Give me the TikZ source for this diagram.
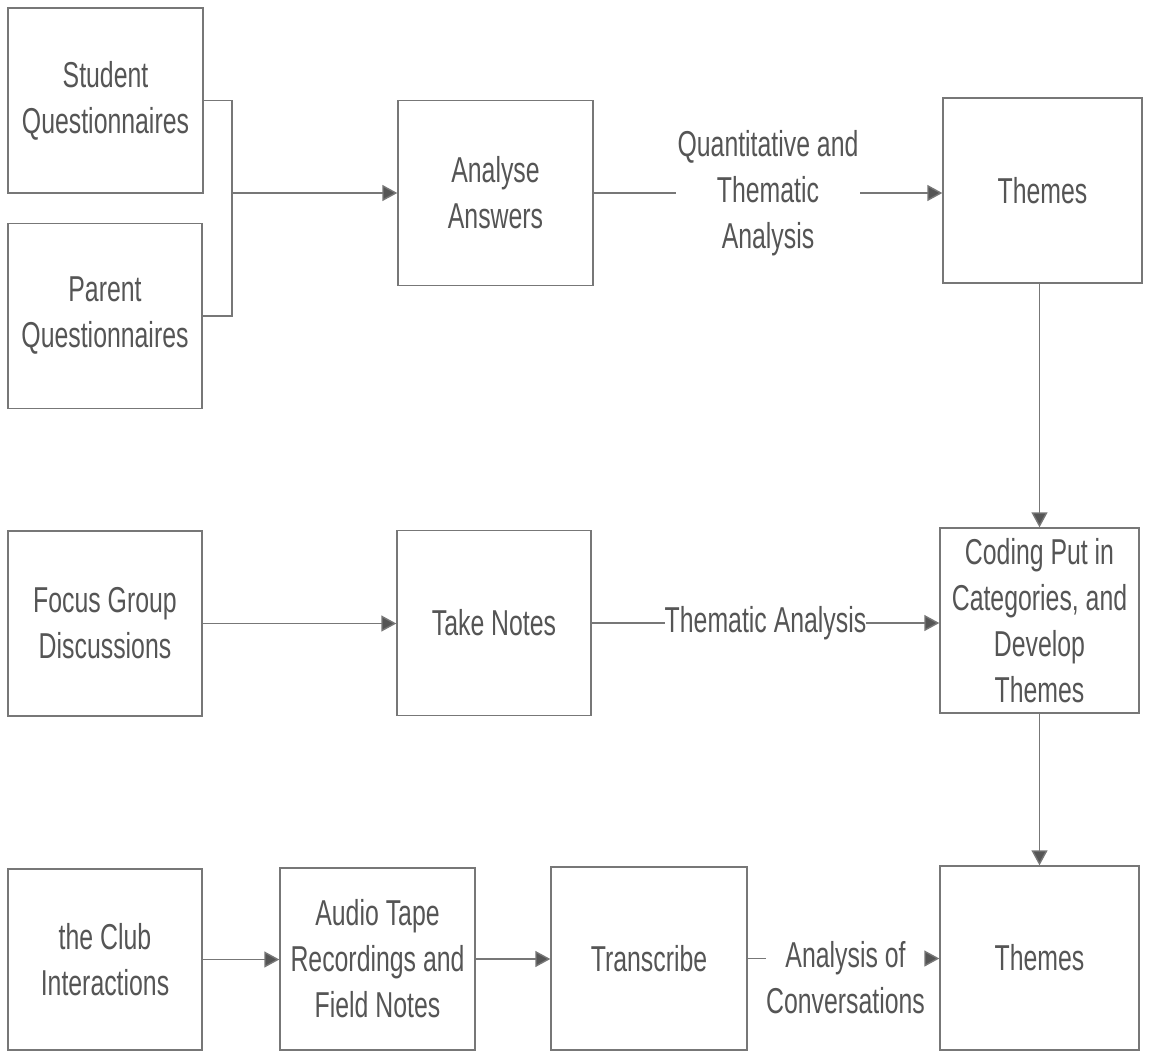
\documentclass[tikz,border=0pt]{standalone}
\usepackage{fontspec}
\setmainfont[FakeStretch=0.69]{Liberation Sans}
\usetikzlibrary{arrows.meta}

\definecolor{boxline}{HTML}{777777}
\definecolor{boxtext}{HTML}{555555}

\begin{document}
\begin{tikzpicture}[x=1pt, y=-1pt,
  box/.style = {shape=rectangle, draw=boxline, line width=1.4pt,
    align=center, text=boxtext, minimum width=195pt, minimum height=185pt,
    font=\fontsize{36}{46}\selectfont},
  lbl/.style = {fill=white, inner sep=0pt, align=center, text=boxtext,
    font=\fontsize{36}{46}\selectfont},
  link/.style = {draw=boxline, line width=1.4pt},
  arr/.style = {link, -{Triangle[length=15pt, width=16pt, fill=boxtext]}}]
    \useasboundingbox[fill=white] (0,0) rectangle (1150,1052);

    % questionnaires
    \node[box] (stud) at (105.5,100.5) {Student\\Questionnaires};
    \node[box, minimum width=194pt] (par) at (105,316) {Parent\\Questionnaires};
    \node[box] (ana) at (495.5,193) {Analyse\\Answers};
    \node[box, minimum width=199pt] (th1) at (1042.5,190.5) {Themes};

    % focus groups
    \node[box, minimum width=194pt] (focus) at (105,623.5) {Focus Group\\Discussions};
    \node[box, minimum width=194pt] (take) at (494,623) {Take Notes};
    \node[box, minimum width=199pt] (code) at (1039.5,620.5)
        {Coding Put in\\Categories, and\\Develop\\Themes};

    % club interactions
    \node[box, minimum width=194pt, minimum height=181pt] (club) at (105,959.5) {the Club\\Interactions};
    \node[box, minimum height=182pt] (audio) at (377.5,959) {Audio Tape\\Recordings and\\Field Notes};
    \node[box, minimum width=196pt, minimum height=183pt] (trans) at (649,958.5) {Transcribe};
    \node[box, minimum width=199pt, minimum height=184pt] (th2) at (1039.5,958) {Themes};

    \coordinate (brk) at (232,193);
    \draw[link] (stud.east) -| (brk) |- (par.east);
    \draw[arr] (brk) -- (ana.west);
    \draw[arr] (ana.east) -- (ana.east -| th1.west)
        node[lbl, midway, inner xsep=2pt] {Quantitative and\\Thematic\\Analysis};
    \draw[arr] (code.north |- th1.south) -- (code.north);

    \draw[arr] (focus.east) -- (focus.east -| take.west);
    \draw[arr] (take.east) -- (take.east -| code.west)
        node[lbl, midway] {Thematic Analysis};
    \draw[arr] (code.south) -- (th2.north);

    \draw[arr] (club.east) -- (club.east -| audio.west);
    \draw[arr] (audio.east) -- (audio.east -| trans.west);
    \node[lbl] (conv) at (845.5,978) {Analysis of\\Conversations};
    \draw[link] (trans.east) -- (trans.east -| conv.west);
    \draw[arr] (925,958.5) -- (th2.west |- 0,958.5);
\end{tikzpicture}
\end{document}
